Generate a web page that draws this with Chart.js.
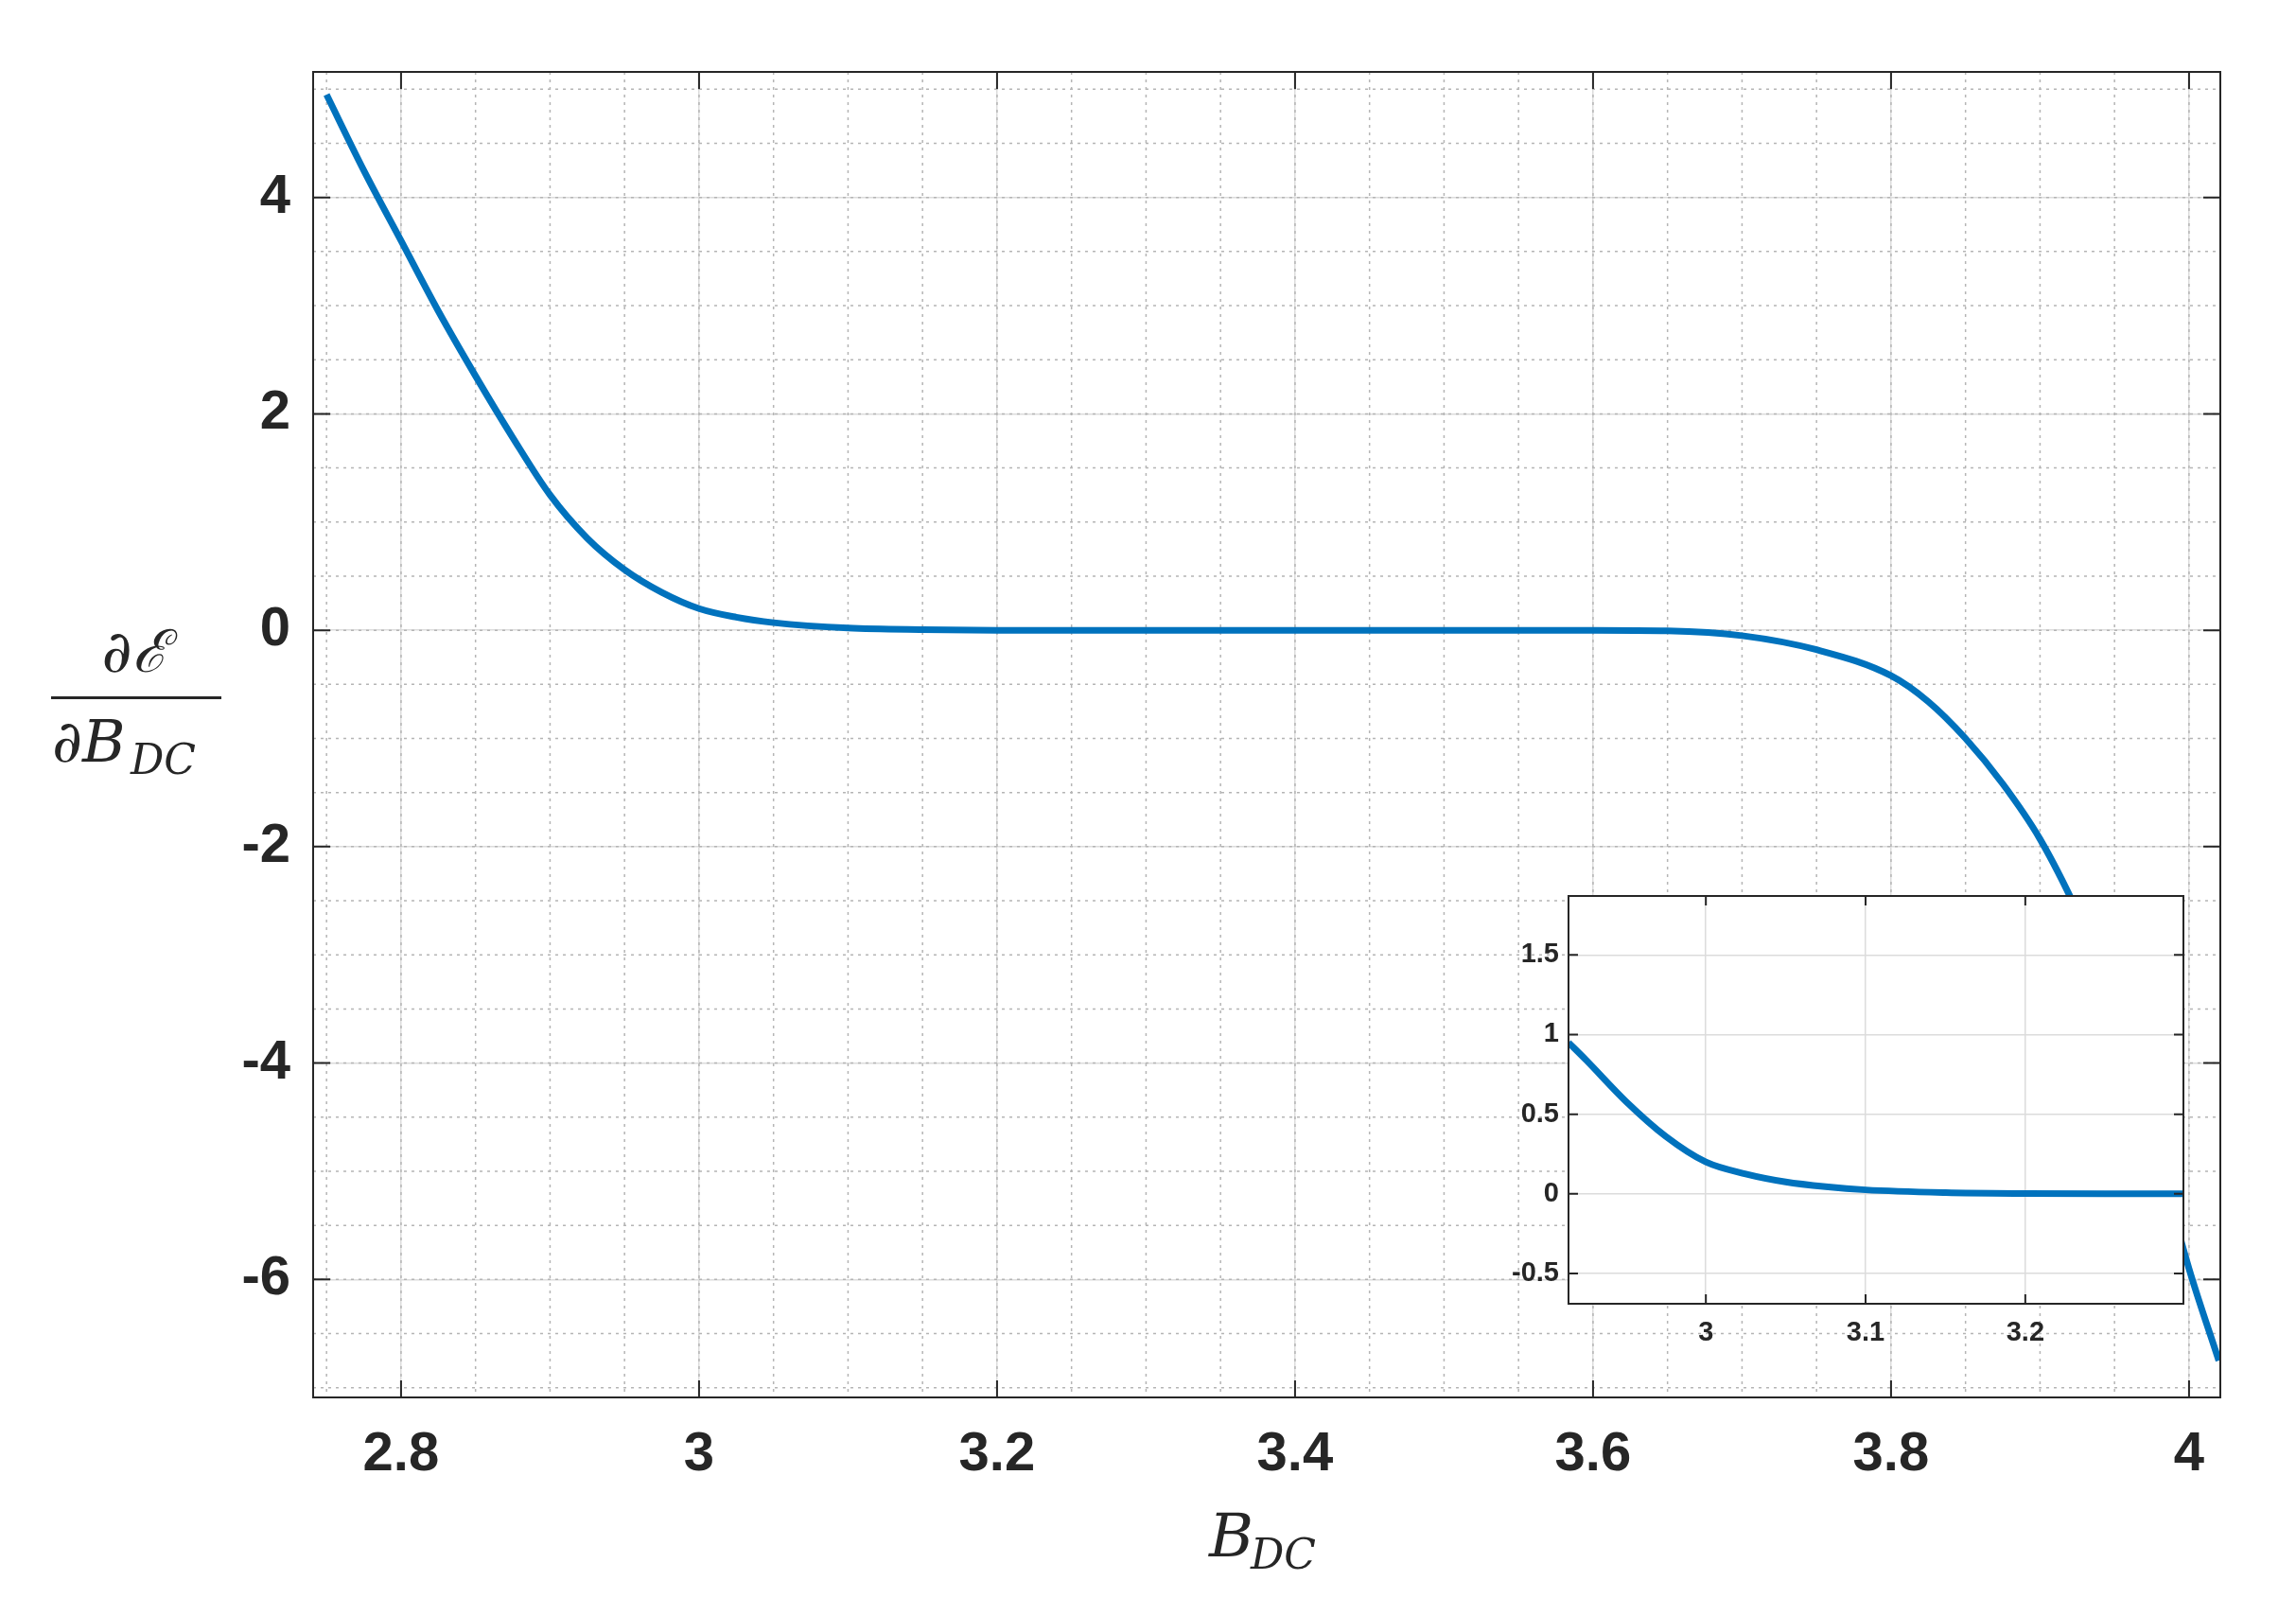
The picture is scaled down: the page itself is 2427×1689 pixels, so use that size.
<!DOCTYPE html>
<html>
<head>
<meta charset="utf-8">
<script src="https://cdn.jsdelivr.net/npm/chart.js@4/dist/chart.umd.min.js"></script>
<style>
  body { margin: 0; background: #fff; }
  #wrap { position: relative; width: 2427px; height: 1689px; }
  #inset { position: absolute; left: 1560px; top: 900px; }
</style>
</head>
<body>
<div id="wrap">
  <canvas id="main" width="2427" height="1689"></canvas>
  <canvas id="inset" width="780" height="540"></canvas>
</div>
<script>
// main curve
const bx = [2.75, 2.775, 2.8, 2.825, 2.85, 2.875, 2.9, 2.925, 2.95, 2.975, 3.0, 3.025, 3.05, 3.1, 3.15, 3.2, 3.3, 3.4, 3.5, 3.6, 3.65, 3.7, 3.75, 3.8, 3.825, 3.85, 3.875, 3.9, 3.925, 3.95, 4.0, 4.02];
const dE = [4.95, 4.25, 3.6, 2.95, 2.35, 1.78, 1.25, 0.85, 0.56, 0.35, 0.2, 0.12, 0.07, 0.02, 0.005, 0, 0, 0, 0, 0, -0.005, -0.05, -0.18, -0.42, -0.66, -1.0, -1.42, -1.93, -2.6, -3.4, -5.9, -6.75];
const xTicks = [2.8, 3, 3.2, 3.4, 3.6, 3.8, 4];
const yTicks = [-6, -4, -2, 0, 2, 4];

// zoomed inset
const bxZoom = [2.914, 2.925, 2.95, 2.975, 3.0, 3.025, 3.05, 3.075, 3.1, 3.15, 3.2, 3.25, 3.299];
const dEZoom = [0.95, 0.84, 0.58, 0.36, 0.2, 0.125, 0.075, 0.045, 0.025, 0.008, 0.002, 0, 0];
const xTicksZoom = [3, 3.1, 3.2];
const yTicksZoom = [-0.5, 0, 0.5, 1, 1.5];

const blue = '#0072BD';
const pts = (xs, ys) => xs.map((x, i) => ({x: x, y: ys[i]}));
const fmt = v => String(+v.toFixed(2));

// box, inward ticks, minor dotted grid
function framePlugin(minorX, minorY, tickLen, white) {
  return {
    id: 'frame',
    beforeDraw(chart) {
      const a = chart.chartArea, ctx = chart.ctx;
      if (white) { ctx.save(); ctx.fillStyle = '#fff'; ctx.fillRect(a.left, a.top, a.right - a.left, a.bottom - a.top); ctx.restore(); }
    },
    beforeDatasetsDraw(chart) {
      const a = chart.chartArea, ctx = chart.ctx;
      const sx = chart.scales.x, sy = chart.scales.y;
      ctx.save();
      ctx.strokeStyle = '#b5b5b5'; ctx.lineWidth = 1.5; ctx.setLineDash([3, 5]);
      minorX.forEach(v => { const p = sx.getPixelForValue(v); ctx.beginPath(); ctx.moveTo(p, a.top); ctx.lineTo(p, a.bottom); ctx.stroke(); });
      minorY.forEach(v => { const p = sy.getPixelForValue(v); ctx.beginPath(); ctx.moveTo(a.left, p); ctx.lineTo(a.right, p); ctx.stroke(); });
      ctx.restore();
    },
    afterDraw(chart) {
      const a = chart.chartArea, ctx = chart.ctx;
      const sx = chart.scales.x, sy = chart.scales.y;
      ctx.save();
      ctx.strokeStyle = '#262626'; ctx.lineWidth = 2;
      ctx.strokeRect(a.left, a.top, a.right - a.left, a.bottom - a.top);
      ctx.beginPath();
      sx.ticks.forEach(t => { const p = sx.getPixelForValue(t.value);
        ctx.moveTo(p, a.bottom); ctx.lineTo(p, a.bottom - tickLen); ctx.moveTo(p, a.top); ctx.lineTo(p, a.top + tickLen); });
      sy.ticks.forEach(t => { const p = sy.getPixelForValue(t.value);
        ctx.moveTo(a.left, p); ctx.lineTo(a.left + tickLen, p); ctx.moveTo(a.right, p); ctx.lineTo(a.right - tickLen, p); });
      ctx.stroke();
      ctx.restore();
    }
  };
}

const labelsPlugin = {
  id: 'labels',
  afterDraw(chart) {
    const ctx = chart.ctx;
    ctx.save();
    ctx.fillStyle = '#262626';
    ctx.textBaseline = 'alphabetic';
    // x label B_DC
    ctx.font = 'italic 64px "DejaVu Serif", serif';
    ctx.textAlign = 'left';
    ctx.fillText('B', 1278, 1645);
    ctx.font = 'italic 44px "DejaVu Serif", serif';
    ctx.fillText('DC', 1322, 1658);
    // y label fraction
    ctx.font = 'italic 62px "DejaVu Serif", serif';
    ctx.textAlign = 'center';
    ctx.fillText('\u2202\u2130', 142, 710);
    ctx.fillRect(54, 736, 180, 3);
    ctx.textAlign = 'left';
    ctx.fillText('\u2202B', 55, 805);
    ctx.font = 'italic 44px "DejaVu Serif", serif';
    ctx.fillText('DC', 138, 818);
    ctx.restore();
  }
};

const range = (a, b, s) => { const r = []; for (let v = a; v <= b + 1e-9; v += s) r.push(+v.toFixed(3)); return r; };

new Chart(document.getElementById('main'), {
  type: 'scatter',
  data: { datasets: [{ data: pts(bx, dE), showLine: true, borderColor: blue, borderWidth: 7, pointRadius: 0, cubicInterpolationMode: 'monotone' }] },
  options: {
    responsive: false, devicePixelRatio: 1, animation: false,
    layout: { padding: { top: 76, right: 80 } },
    plugins: { legend: { display: false }, tooltip: { enabled: false } },
    scales: {
      x: {
        min: 2.741, max: 4.021,
        afterBuildTicks: s => { s.ticks = xTicks.map(v => ({value: v})); },
        afterFit: s => { s.height = 212; },
        grid: { color: '#dcdcdc', lineWidth: 1.5, drawTicks: false },
        border: { display: false },
        ticks: { callback: fmt, color: '#262626', font: { family: 'Liberation Sans', size: 58, weight: 'bold' }, padding: 26, maxRotation: 0 }
      },
      y: {
        min: -7.09, max: 5.16,
        afterBuildTicks: s => { s.ticks = yTicks.map(v => ({value: v})); },
        afterFit: s => { s.width = 331; },
        grid: { color: '#dcdcdc', lineWidth: 1.5, drawTicks: false },
        border: { display: false },
        ticks: { callback: fmt, color: '#262626', font: { family: 'Liberation Sans', size: 58, weight: 'bold' }, padding: 24 }
      }
    }
  },
  plugins: [framePlugin(range(2.75, 4.0, 0.05), range(-7, 5, 0.5), 18, false), labelsPlugin]
});

new Chart(document.getElementById('inset'), {
  type: 'scatter',
  data: { datasets: [{ data: pts(bxZoom, dEZoom), showLine: true, borderColor: blue, borderWidth: 7, pointRadius: 0, cubicInterpolationMode: 'monotone' }] },
  options: {
    responsive: false, devicePixelRatio: 1, animation: false,
    layout: { padding: { top: 47, right: 32 } },
    plugins: { legend: { display: false }, tooltip: { enabled: false } },
    scales: {
      x: {
        min: 2.914, max: 3.299,
        afterBuildTicks: s => { s.ticks = xTicksZoom.map(v => ({value: v})); },
        afterFit: s => { s.height = 62; },
        grid: { color: '#dcdcdc', lineWidth: 1.5, drawTicks: false },
        border: { display: false },
        ticks: { callback: fmt, color: '#262626', font: { family: 'Liberation Sans', size: 29, weight: 'bold' }, padding: 14, maxRotation: 0 }
      },
      y: {
        min: -0.69, max: 1.87,
        afterBuildTicks: s => { s.ticks = yTicksZoom.map(v => ({value: v})); },
        afterFit: s => { s.width = 98; },
        grid: { color: '#dcdcdc', lineWidth: 1.5, drawTicks: false },
        border: { display: false },
        ticks: { callback: fmt, color: '#262626', font: { family: 'Liberation Sans', size: 29, weight: 'bold' }, padding: 10 }
      }
    }
  },
  plugins: [framePlugin([], [], 10, true)]
});
</script>
</body>
</html>
